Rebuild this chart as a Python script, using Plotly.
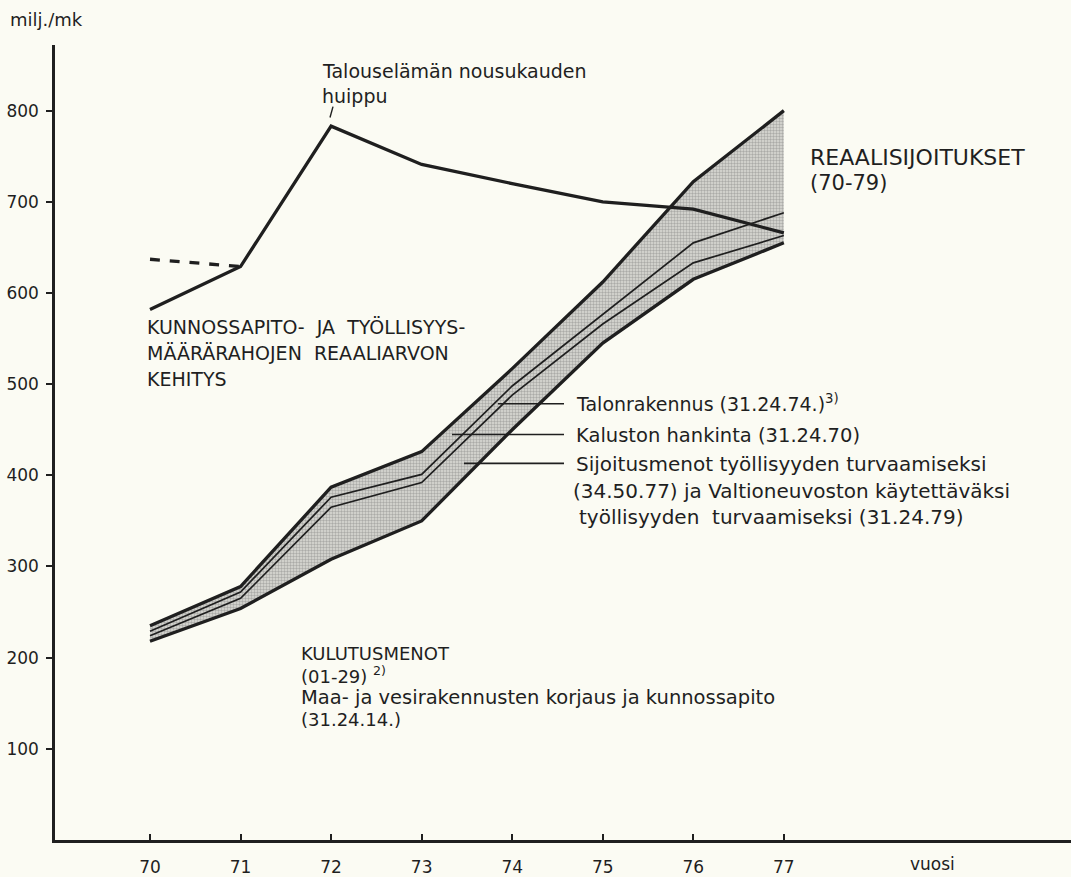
import plotly.graph_objects as go

# ---- data ----
years = [70, 71, 72, 73, 74, 75, 76, 77]
year_labels = ["70", "71", "72", "73", "74", "75", "76", "77"]

# Kunnossapito- ja työllisyysmäärärahojen reaaliarvon kehitys
kunnossapito = [582, 629, 783, 741, 720, 700, 692, 666]
kunnossapito_alt_years = [70, 71]
kunnossapito_alt = [637, 629]

# Band (cumulative boundaries, milj. mk)
band_top = [235, 278, 387, 426, 517, 612, 722, 800]      # Talonrakennus top
band_inner1 = [229, 272, 376, 401, 498, 576, 655, 688]   # Kaluston hankinta boundary
band_inner2 = [224, 265, 365, 392, 488, 566, 633, 663]   # Sijoitusmenot boundary
band_bottom = [218, 254, 308, 350, 450, 545, 615, 655]   # Kulutusmenot / Maa- ja vesirak.

y_ticks = [100, 200, 300, 400, 500, 600, 700, 800]

# ---- layout helpers (pixel -> paper) ----
W, H = 1071, 877
L, R, T, B = 55, 0, 45, 32
PW, PH = W - L - R, H - T - B


def px(x):
    return (x - L) / PW


def py(y):
    return (H - B - y) / PH


INK = "#1f1f1f"
BG = "#fbfbf3"
FONT = "DejaVu Sans"

fig = go.Figure()

# band fill
fig.add_trace(go.Scatter(x=years, y=band_bottom, mode="lines",
                         line=dict(width=0, color=INK), hoverinfo="skip", showlegend=False))
fig.add_trace(go.Scatter(x=years, y=band_top, mode="lines", fill="tonexty",
                         fillcolor="#d2d2cc",
                         fillpattern=dict(shape=".", bgcolor="#dcdcd6", fgcolor="#7a7a7a",
                                          size=3, solidity=0.5),
                         line=dict(width=0, color=INK), hoverinfo="skip", showlegend=False))
# inner thin lines
for s in (band_inner1, band_inner2):
    fig.add_trace(go.Scatter(x=years, y=s, mode="lines",
                             line=dict(width=1.7, color=INK), showlegend=False))
# thick boundary lines
for s in (band_top, band_bottom):
    fig.add_trace(go.Scatter(x=years, y=s, mode="lines",
                             line=dict(width=3.3, color=INK), showlegend=False))
# kunnossapito line
fig.add_trace(go.Scatter(x=years, y=kunnossapito, mode="lines",
                         line=dict(width=3.3, color=INK), showlegend=False))
fig.add_trace(go.Scatter(x=kunnossapito_alt_years, y=kunnossapito_alt, mode="lines",
                         line=dict(width=3.3, color=INK, dash="dash"), showlegend=False))

annotations = []


def text(s, x, y, size=16, anchor="left"):
    annotations.append(dict(text=s, x=px(x), y=py(y), xref="paper", yref="paper",
                            xanchor=anchor, yanchor="middle", showarrow=False,
                            font=dict(family=FONT, size=size, color=INK)))


text("milj./mk", 8, 19, 18)
text("Talouselämän nousukauden", 320, 71, 19)
text("huippu", 320, 96, 19)
text("REAALISIJOITUKSET", 808, 158, 22)
text("(70-79)", 808, 184, 21)
text("KUNNOSSAPITO-  JA  TYÖLLISYYS-", 145, 329, 19)
text("MÄÄRÄRAHOJEN  REAALIARVON", 145, 355, 19)
text("KEHITYS", 145, 381, 19)
text("Talonrakennus (31.24.74.)<sup>3)</sup>", 574, 405, 19)
text("Kaluston hankinta (31.24.70)", 574, 438, 19.5)
text("Sijoitusmenot työllisyyden turvaamiseksi", 574, 467, 20)
text("(34.50.77) ja Valtioneuvoston käytettäväksi", 571, 494, 20)
text("työllisyyden  turvaamiseksi (31.24.79)", 577, 520, 20)
text("KULUTUSMENOT", 299, 657, 18)
text("(01-29) <sup>2)</sup>", 299, 679, 18)
text("Maa- ja vesirakennusten korjaus ja kunnossapito", 299, 702, 19.5)
text("(31.24.14.)", 299, 724, 18)
text("vuosi", 932, 869, 17, anchor="center")

shapes = []


def seg(x0, y0, x1, y1, w=1.6):
    shapes.append(dict(type="line", xref="paper", yref="paper",
                       x0=px(x0), y0=py(y0), x1=px(x1), y1=py(y1),
                       line=dict(color=INK, width=w)))


# leader lines for labels
seg(333, 107, 330, 118, 1.4)
seg(498, 406, 564, 406)
seg(452, 437, 564, 437)
seg(464, 466, 564, 466)

fig.update_layout(
    width=W, height=H,
    margin=dict(l=L, r=R, t=T, b=B),
    paper_bgcolor=BG, plot_bgcolor=BG,
    annotations=annotations, shapes=shapes,
    font=dict(family=FONT, size=17, color=INK),
    showlegend=False,
    xaxis=dict(range=[70 - (150 - L) / 90.55, 70 + (W - 150) / 90.55],
               tickvals=years, ticktext=year_labels,
               ticks="inside", ticklen=6, tickwidth=1.5, tickcolor=INK,
               ticklabelstandoff=10,
               showline=True, linecolor=INK, linewidth=2.5,
               showgrid=False, zeroline=False,
               tickfont=dict(family=FONT, size=17, color=INK)),
    yaxis=dict(range=[0, 872], tickvals=y_ticks,
               ticks="outside", ticklen=6, tickwidth=1.5, tickcolor=INK,
               ticklabelstandoff=4,
               showline=True, linecolor=INK, linewidth=2.5,
               showgrid=False, zeroline=False,
               tickfont=dict(family=FONT, size=17, color=INK)),
)

fig.write_html(
    "out.html",
    config={"displayModeBar": False},
    post_script="document.body.style.margin='0';document.body.style.overflow='hidden';"
                "document.body.style.background='" + BG + "';",
)
